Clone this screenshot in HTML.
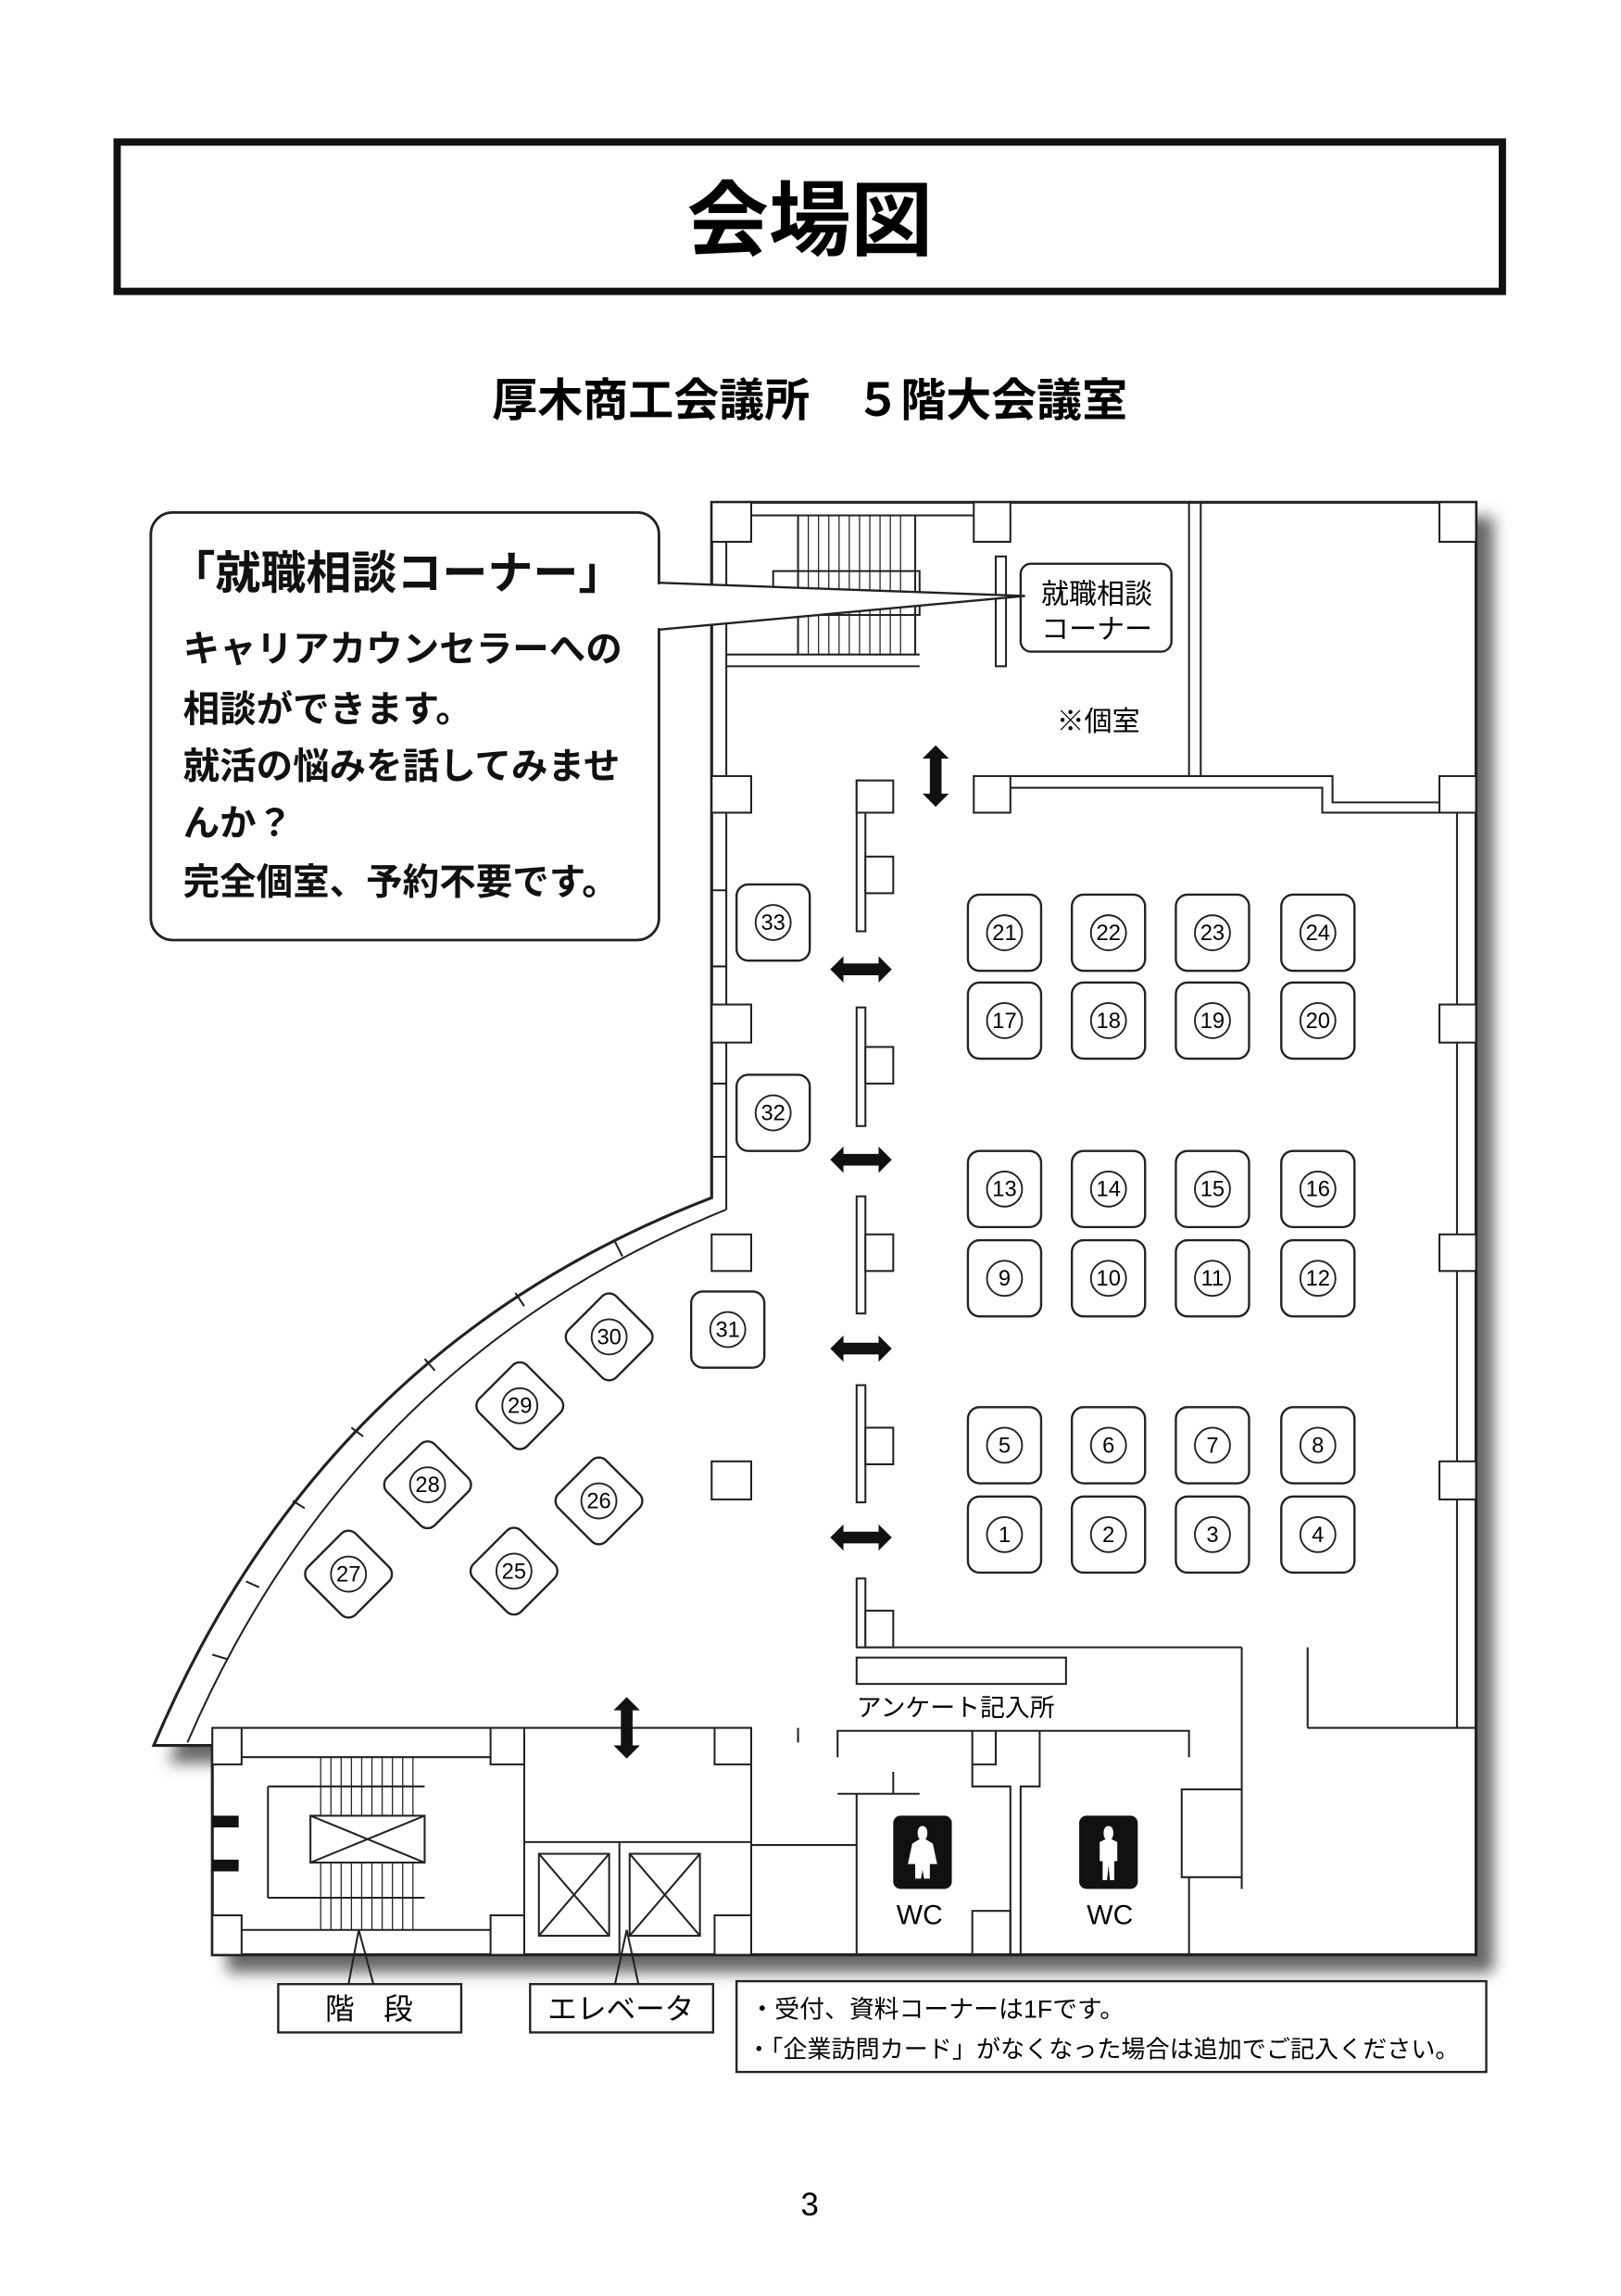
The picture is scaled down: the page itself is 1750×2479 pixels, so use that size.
<!DOCTYPE html>
<html><head><meta charset="utf-8"><style>
html,body{margin:0;padding:0;background:#fff}
svg{display:block}
text{font-family:"Liberation Sans","Noto Sans CJK JP",sans-serif}
</style></head><body>
<svg width="1750" height="2479" viewBox="0 0 1107 1568" preserveAspectRatio="none" xmlns="http://www.w3.org/2000/svg">
<defs>
<filter id="sh" x="-10%" y="-10%" width="130%" height="130%"><feGaussianBlur stdDeviation="5"/></filter>
<g id="bx"><rect x="-25" y="-26" width="50" height="52" rx="8" fill="#fff" stroke="#222" stroke-width="1.5"/><circle r="12" fill="none" stroke="#222" stroke-width="1.2"/></g>
<g id="dm"><rect x="-23" y="-23" width="46" height="46" rx="7" fill="#fff" stroke="#222" stroke-width="1.5" transform="rotate(45)"/><circle r="12" fill="none" stroke="#222" stroke-width="1.2"/></g>
<g id="ah"><polygon points="-21,0 -12,-9 -12,-4 12,-4 12,-9 21,0 12,9 12,4 -12,4 -12,9" fill="#111"/></g>
</defs>

<!-- Title -->
<rect x="80" y="97" width="946" height="102" fill="#fff" stroke="#111" stroke-width="5"/>
<text x="553" y="170" font-size="56" font-weight="bold" text-anchor="middle">会場図</text>
<text x="553" y="284" font-size="31" font-weight="bold" text-anchor="middle">厚木商工会議所　５階大会議室</text>

<!-- Building shadow -->
<path d="M 494 353 L 1020 353 L 1020 1347 L 155 1347 L 155 1204 L 115 1204 Q 230 930 494 830 Z" fill="#666" filter="url(#sh)"/>
<!-- Building -->
<path d="M 486 343 L 1008 343 L 1008 1335 L 145 1335 L 145 1192 L 105 1192 Q 220 920 486 818 Z" fill="#fff" stroke="#222" stroke-width="2"/>
<g fill="none" stroke="#222" stroke-width="1.3">
<line x1="496" y1="370" x2="496" y2="826"/>
<path d="M 496 826 Q 240 930 128 1190"/>
<line x1="105" y1="1192" x2="145" y2="1192"/>
<line x1="145" y1="1180" x2="513" y2="1180"/>
<line x1="420" y1="848" x2="425" y2="858"/><line x1="352" y1="883" x2="358" y2="892"/><line x1="290" y1="928" x2="297" y2="936"/>
<line x1="240" y1="975" x2="248" y2="981"/><line x1="200" y1="1025" x2="208" y2="1030"/><line x1="168" y1="1080" x2="177" y2="1084"/><line x1="145" y1="1130" x2="155" y2="1133"/>
<line x1="486" y1="608" x2="496" y2="608"/><line x1="486" y1="660" x2="496" y2="660"/><line x1="486" y1="740" x2="496" y2="740"/><line x1="486" y1="790" x2="496" y2="790"/>
<line x1="496" y1="455" x2="628" y2="455"/><line x1="496" y1="447" x2="628" y2="447"/>
<rect x="680" y="380" width="7" height="75"/>
<rect x="528" y="390" width="100" height="30"/>
<line x1="545" y1="352" x2="545" y2="447"/><line x1="625" y1="352" x2="625" y2="447"/>
<line x1="496" y1="352" x2="680" y2="352"/>
<line x1="812" y1="343" x2="812" y2="530"/><line x1="820" y1="343" x2="820" y2="530"/>
<path d="M 690 530 L 910 530 L 910 548 L 985 548"/>
<path d="M 690 538 L 903 538 L 903 555 L 985 555"/>
<line x1="995" y1="555" x2="995" y2="1180"/>
<line x1="585" y1="1125" x2="848" y2="1125"/>
<line x1="848" y1="1125" x2="848" y2="1290"/>
<line x1="893" y1="1125" x2="893" y2="1180"/><line x1="893" y1="1180" x2="1008" y2="1180"/>
<line x1="607" y1="1100" x2="607" y2="1125"/>
<rect x="585" y="1132" width="143" height="18"/>
<path d="M 572 1200 L 572 1182 L 812 1182 L 812 1200"/>
<path d="M 664 1182 L 664 1220 L 690 1220 L 690 1335"/>
<path d="M 680 1182 L 680 1205 L 664 1205"/>
<path d="M 710 1182 L 710 1220 L 697 1220 L 697 1335"/>
<line x1="572" y1="1225" x2="628" y2="1225"/><line x1="610" y1="1210" x2="610" y2="1225"/>
<line x1="585" y1="1225" x2="585" y2="1335"/>
<line x1="513" y1="1260" x2="585" y2="1260"/>
<path d="M 848 1222 L 807 1222 L 807 1282 L 848 1282"/>
<line x1="812" y1="1282" x2="812" y2="1335"/>
<rect x="664" y="1305" width="26" height="30"/>
<line x1="513" y1="1180" x2="513" y2="1335"/>
<line x1="545" y1="1180" x2="545" y2="1190"/>
<line x1="358" y1="1258" x2="513" y2="1258"/>
<rect x="368" y="1266" width="48" height="56"/><line x1="368" y1="1266" x2="416" y2="1322"/><line x1="416" y1="1266" x2="368" y2="1322"/>
<rect x="430" y="1266" width="48" height="56"/><line x1="430" y1="1266" x2="478" y2="1322"/><line x1="478" y1="1266" x2="430" y2="1322"/>
<line x1="423" y1="1258" x2="423" y2="1335"/>
<line x1="165" y1="1200" x2="335" y2="1200"/><line x1="165" y1="1318" x2="335" y2="1318"/>
<line x1="183" y1="1220" x2="183" y2="1296"/><line x1="183" y1="1220" x2="290" y2="1220"/><line x1="183" y1="1296" x2="290" y2="1296"/>
<rect x="212" y="1240" width="78" height="32" fill="#fff"/><line x1="212" y1="1240" x2="290" y2="1272"/><line x1="290" y1="1240" x2="212" y2="1272"/>
<line x1="358" y1="1180" x2="358" y2="1335"/>
</g>
<g stroke="#222" stroke-width="0.8">
<path d="M 552 352 V 447 M 559 352 V 447 M 566 352 V 447 M 573 352 V 447 M 580 352 V 447 M 587 352 V 447 M 594 352 V 447 M 601 352 V 447 M 608 352 V 447 M 615 352 V 447"/>
<path d="M 219 1200 V 1240 M 226 1200 V 1240 M 233 1200 V 1240 M 240 1200 V 1240 M 247 1200 V 1240 M 254 1200 V 1240 M 261 1200 V 1240 M 268 1200 V 1240 M 275 1200 V 1240 M 282 1200 V 1240"/>
<path d="M 219 1272 V 1318 M 226 1272 V 1318 M 233 1272 V 1318 M 240 1272 V 1318 M 247 1272 V 1318 M 254 1272 V 1318 M 261 1272 V 1318 M 268 1272 V 1318 M 275 1272 V 1318 M 282 1272 V 1318"/>
</g>
<rect x="145" y="1240" width="18" height="8" fill="#111"/><rect x="145" y="1270" width="18" height="8" fill="#111"/>
<g fill="#fff" stroke="#222" stroke-width="1.3">
<rect x="486" y="343" width="27" height="27"/><rect x="665" y="343" width="25" height="27"/><rect x="983" y="343" width="25" height="27"/>
<rect x="486" y="530" width="27" height="25"/><rect x="665" y="530" width="25" height="25"/><rect x="983" y="530" width="25" height="25"/>
<rect x="486" y="686" width="27" height="26"/><rect x="983" y="686" width="25" height="26"/>
<rect x="486" y="843" width="27" height="25"/><rect x="983" y="843" width="25" height="25"/>
<rect x="486" y="998" width="27" height="26"/><rect x="983" y="998" width="25" height="26"/>
<rect x="145" y="1180" width="20" height="25"/><rect x="335" y="1180" width="23" height="25"/><rect x="488" y="1180" width="25" height="25"/>
<rect x="145" y="1308" width="20" height="27"/><rect x="335" y="1308" width="23" height="27"/><rect x="488" y="1308" width="25" height="27"/>
<rect x="585" y="533" width="6" height="103"/><rect x="585" y="533" width="25" height="22"/><rect x="591" y="585" width="19" height="25"/>
<rect x="585" y="688" width="6" height="81"/><rect x="591" y="715" width="19" height="25"/>
<rect x="585" y="817" width="6" height="80"/><rect x="591" y="843" width="19" height="25"/>
<rect x="585" y="946" width="6" height="80"/><rect x="591" y="975" width="19" height="25"/>
<rect x="585" y="1078" width="6" height="47"/><rect x="591" y="1100" width="19" height="25"/>
</g>
<use href="#ah" x="588" y="662"/><use href="#ah" x="588" y="792"/><use href="#ah" x="588" y="921"/><use href="#ah" x="588" y="1050"/>
<use href="#ah" transform="translate(639,530) rotate(90)"/><use href="#ah" transform="translate(428,1180) rotate(90)"/>

<g font-size="15" text-anchor="middle">
<use href="#bx" x="686" y="637"/><text x="686" y="642">21</text>
<use href="#bx" x="757" y="637"/><text x="757" y="642">22</text>
<use href="#bx" x="828" y="637"/><text x="828" y="642">23</text>
<use href="#bx" x="900" y="637"/><text x="900" y="642">24</text>
<use href="#bx" x="686" y="697"/><text x="686" y="702">17</text>
<use href="#bx" x="757" y="697"/><text x="757" y="702">18</text>
<use href="#bx" x="828" y="697"/><text x="828" y="702">19</text>
<use href="#bx" x="900" y="697"/><text x="900" y="702">20</text>
<use href="#bx" x="686" y="812"/><text x="686" y="817">13</text>
<use href="#bx" x="757" y="812"/><text x="757" y="817">14</text>
<use href="#bx" x="828" y="812"/><text x="828" y="817">15</text>
<use href="#bx" x="900" y="812"/><text x="900" y="817">16</text>
<use href="#bx" x="686" y="873"/><text x="686" y="878">9</text>
<use href="#bx" x="757" y="873"/><text x="757" y="878">10</text>
<use href="#bx" x="828" y="873"/><text x="828" y="878">11</text>
<use href="#bx" x="900" y="873"/><text x="900" y="878">12</text>
<use href="#bx" x="686" y="987"/><text x="686" y="992">5</text>
<use href="#bx" x="757" y="987"/><text x="757" y="992">6</text>
<use href="#bx" x="828" y="987"/><text x="828" y="992">7</text>
<use href="#bx" x="900" y="987"/><text x="900" y="992">8</text>
<use href="#bx" x="686" y="1048"/><text x="686" y="1053">1</text>
<use href="#bx" x="757" y="1048"/><text x="757" y="1053">2</text>
<use href="#bx" x="828" y="1048"/><text x="828" y="1053">3</text>
<use href="#bx" x="900" y="1048"/><text x="900" y="1053">4</text>
<use href="#bx" x="528" y="630"/><text x="528" y="635">33</text>
<use href="#bx" x="528" y="760"/><text x="528" y="765">32</text>
<use href="#bx" x="497" y="908"/><text x="497" y="913">31</text>
<use href="#dm" x="416" y="913"/><text x="416" y="918">30</text>
<use href="#dm" x="355" y="960"/><text x="355" y="965">29</text>
<use href="#dm" x="292" y="1014"/><text x="292" y="1019">28</text>
<use href="#dm" x="238" y="1075"/><text x="238" y="1080">27</text>
<use href="#dm" x="409" y="1025"/><text x="409" y="1030">26</text>
<use href="#dm" x="351" y="1073"/><text x="351" y="1078">25</text>
</g>

<rect x="697" y="385" width="103" height="60" rx="7" fill="#fff" stroke="#222" stroke-width="1.5"/>
<text x="749" y="412" font-size="19" text-anchor="middle">就職相談</text>
<text x="749" y="436" font-size="19" text-anchor="middle">コーナー</text>
<text x="750" y="499" font-size="19" text-anchor="middle">※個室</text>

<path d="M 450 398 L 700 407 L 450 430" fill="#fff" stroke="#222" stroke-width="1.5"/>
<rect x="103" y="350" width="347" height="292" rx="15" fill="#fff" stroke="#222" stroke-width="1.8"/>
<rect x="447" y="399" width="6" height="30" fill="#fff"/>
<g font-weight="bold" fill="#111">
<text x="116" y="402" font-size="31">「就職相談コーナー」</text>
<text x="125" y="452" font-size="25">キャリアカウンセラーへの</text>
<text x="125" y="493" font-size="25">相談ができます。</text>
<text x="125" y="532" font-size="25">就活の悩みを話してみませ</text>
<text x="125" y="571" font-size="25">んか？</text>
<text x="125" y="611" font-size="25">完全個室、予約不要です。</text>
</g>

<text x="585" y="1172" font-size="17">アンケート記入所</text>
<rect x="610" y="1240" width="40" height="50" rx="5" fill="#111"/>
<path d="M 630 1247 c 4 0 4 7 2 9 l 5 3 l 3 14 l -5 0 l 0 10 l -4 0 l -1 -6 l -1 6 l -4 0 l 0 -10 l -5 0 l 3 -14 l 5 -3 c -2 -2 -2 -9 2 -9 z" fill="#fff"/>
<rect x="737" y="1240" width="40" height="50" rx="5" fill="#111"/>
<path d="M 757 1247 c 4 0 4 7 2 9 l 4 2 l 0 13 l -2 0 l 0 13 l -3 0 l -1 -10 l -1 10 l -3 0 l 0 -13 l -2 0 l 0 -13 l 4 -2 c -2 -2 -2 -9 2 -9 z" fill="#fff"/>
<text x="628" y="1314" font-size="19" text-anchor="middle">WC</text>
<text x="758" y="1314" font-size="19" text-anchor="middle">WC</text>

<g fill="none" stroke="#222" stroke-width="1.3">
<path d="M 238 1355 L 245 1318 L 255 1355"/>
<path d="M 420 1355 L 428 1318 L 436 1355"/>
</g>
<rect x="190" y="1355" width="125" height="33" fill="#fff" stroke="#222" stroke-width="1.5"/>
<text x="252" y="1379" font-size="20" text-anchor="middle">階　段</text>
<rect x="362" y="1355" width="125" height="33" fill="#fff" stroke="#222" stroke-width="1.5"/>
<text x="424" y="1379" font-size="20" text-anchor="middle">エレベータ</text>
<rect x="503" y="1353" width="512" height="62" fill="#fff" stroke="#222" stroke-width="1.5"/>
<text x="512" y="1378" font-size="17">・受付、資料コーナーは1Fです。</text>
<text x="510" y="1405" font-size="16.5">・「企業訪問カード」がなくなった場合は追加でご記入ください。</text>

<text x="553" y="1513" font-size="22" text-anchor="middle" font-family="Liberation Serif, serif">3</text>
</svg>
</body></html>
